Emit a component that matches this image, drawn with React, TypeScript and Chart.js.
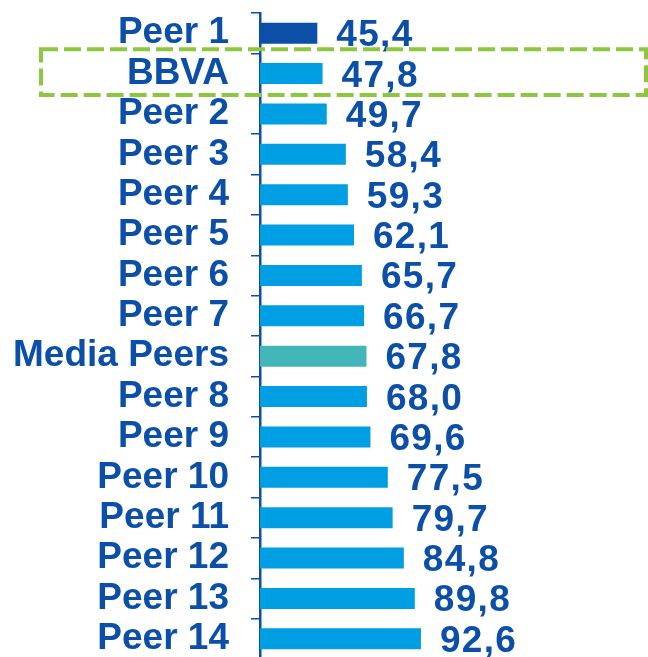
import React, { useEffect, useRef } from "react";
import { Chart, registerables } from "chart.js";

Chart.register(...registerables);

const categories = [
  "Peer 1", "BBVA", "Peer 2", "Peer 3", "Peer 4", "Peer 5", "Peer 6", "Peer 7",
  "Media Peers", "Peer 8", "Peer 9", "Peer 10", "Peer 11", "Peer 12", "Peer 13", "Peer 14",
];
const values = [45.4, 47.8, 49.7, 58.4, 59.3, 62.1, 65.7, 66.7, 67.8, 68.0, 69.6, 77.5, 79.7, 84.8, 89.8, 92.6];
const highlightCategory = "BBVA";

const DARK = "#0b4fa8";
const LIGHT = "#009fe3";
const TEAL = "#43b6ba";
const GREEN = "#8dc63f";
const FONT = "'Liberation Sans', Arial, sans-serif";

const barColors = categories.map((c, i) =>
  i === 0 ? "#0b50a6" : c === "Media Peers" ? TEAL : LIGHT
);

const valueLabels = {
  id: "valueLabels",
  afterDatasetsDraw(chart: any) {
    const ctx = chart.ctx;
    const meta = chart.getDatasetMeta(0);
    ctx.save();
    ctx.font = `bold 37px ${FONT}`;
    ctx.fillStyle = DARK;
    ctx.textAlign = "left";
    ctx.textBaseline = "alphabetic";
    try { (ctx as any).letterSpacing = "1.3px"; } catch (e) {}
    meta.data.forEach((bar: any, i: number) => {
      const txt = values[i].toFixed(1).replace(".", ",");
      ctx.fillText(txt, bar.x + 19, bar.y + 13);
    });
    ctx.restore();
  },
};

const highlightBox = {
  id: "highlightBox",
  afterDraw(chart: any) {
    const ctx = chart.ctx;
    const y = chart.scales.y;
    const idx = categories.indexOf(highlightCategory);
    const c = y.getPixelForValue(idx);
    const h = (y.bottom - y.top) / categories.length;
    const top = c - 0.6 * h;
    const bottom = c + 0.53 * h;
    const left = chart.chartArea.left - 219;
    const right = chart.width - 2;
    ctx.save();
    ctx.strokeStyle = GREEN;
    ctx.lineWidth = 4;
    ctx.setLineDash([17, 6]);
    ctx.strokeRect(left, top, right - left, bottom - top);
    ctx.restore();
  },
};

export default function App() {
  const ref = useRef<HTMLCanvasElement>(null);
  useEffect(() => {
    if (!ref.current) return;
    const chart = new Chart(ref.current, {
      type: "bar",
      data: {
        labels: categories,
        datasets: [
          {
            data: values,
            backgroundColor: barColors,
            borderWidth: 0,
            categoryPercentage: 1,
            barPercentage: 0.52,
          },
        ],
      },
      options: {
        indexAxis: "y",
        animation: false,
        responsive: false,
        maintainAspectRatio: false,
        layout: { padding: { top: 13, left: 0, right: 0, bottom: 0 } },
        plugins: {
          legend: { display: false },
          tooltip: { enabled: false },
        },
        scales: {
          x: {
            display: false,
            min: 19.3,
            max: 196,
          },
          y: {
            afterFit(scale: any) {
              scale.width = 260;
              scale.paddingTop = 0;
              scale.paddingBottom = 0;
            },
            border: { display: true, color: DARK, width: 2.5 },
            grid: {
              display: true,
              drawOnChartArea: false,
              drawTicks: true,
              tickLength: 9,
              color: DARK,
              lineWidth: 1.5,
              offset: true,
            },
            ticks: {
              color: DARK,
              padding: 22,
              font: { family: FONT, size: 37, weight: "bold" },
              autoSkip: false,
            },
          },
        },
      },
      plugins: [valueLabels, highlightBox],
    });
    return () => chart.destroy();
  }, []);
  return (
    <div
      style={{
        position: "fixed",
        left: 0,
        top: 0,
        width: 648,
        height: 657,
        overflow: "hidden",
        background: "#fff",
      }}
    >
      <canvas ref={ref} width={648} height={659} style={{ display: "block" }} />
    </div>
  );
}
